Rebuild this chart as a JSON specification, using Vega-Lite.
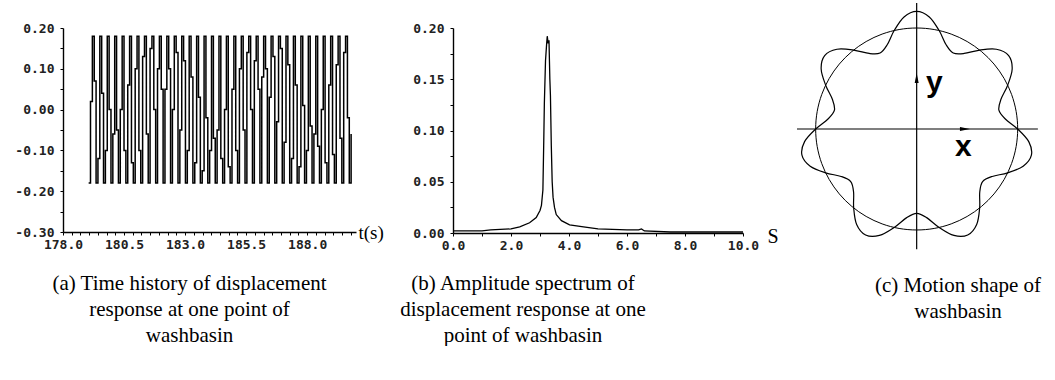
{
  "$schema": "https://vega.github.io/schema/vega-lite/v6.json",
  "padding": {"left": 14, "top": 2, "right": 5, "bottom": 0},
  "bounds": "flush",
  "spacing": 97,
  "background": "white",
  "config": {
    "view": {"stroke": null},
    "axis": {
      "domainColor": "black", "domainWidth": 1.4, "tickColor": "black", "tickWidth": 1, "tickSize": 3,
      "grid": false, "labelFont": "DejaVu Sans Mono", "labelFontSize": 13, "labelFontWeight": "bold",
      "labelColor": "#222", "labelOverlap": false, "labelFlush": false,
      "titleFontWeight": "normal", "titleColor": "black"
    },
    "title": {"font": "Liberation Serif", "fontSize": 21, "fontWeight": "normal", "color": "black", "lineHeight": 26}
  },
  "datasets": {
    "signal": [
      {"t":179.050,"v":-0.18},{"t":179.126,"v":0.02},{"t":179.203,"v":0.18},{"t":179.279,"v":0.07},
      {"t":179.355,"v":-0.18},{"t":179.431,"v":-0.12},{"t":179.508,"v":0.18},{"t":179.584,"v":0.04},
      {"t":179.660,"v":-0.18},{"t":179.736,"v":-0.10},{"t":179.813,"v":0.18},{"t":179.889,"v":0.00},
      {"t":179.965,"v":-0.18},{"t":180.041,"v":-0.06},{"t":180.118,"v":0.18},{"t":180.194,"v":-0.05},
      {"t":180.270,"v":-0.18},{"t":180.346,"v":0.00},{"t":180.423,"v":0.18},{"t":180.499,"v":-0.10},
      {"t":180.575,"v":-0.18},{"t":180.651,"v":0.06},{"t":180.728,"v":0.18},{"t":180.804,"v":-0.13},
      {"t":180.880,"v":-0.18},{"t":180.956,"v":0.10},{"t":181.033,"v":0.18},{"t":181.109,"v":-0.10},
      {"t":181.185,"v":-0.18},{"t":181.261,"v":0.13},{"t":181.338,"v":0.18},{"t":181.414,"v":-0.06},
      {"t":181.490,"v":-0.18},{"t":181.566,"v":0.15},{"t":181.643,"v":0.18},{"t":181.719,"v":0.00},
      {"t":181.795,"v":-0.18},{"t":181.871,"v":0.10},{"t":181.948,"v":0.18},{"t":182.024,"v":0.05},
      {"t":182.100,"v":-0.18},{"t":182.176,"v":0.05},{"t":182.253,"v":0.18},{"t":182.329,"v":0.10},
      {"t":182.405,"v":-0.18},{"t":182.481,"v":0.00},{"t":182.558,"v":0.18},{"t":182.634,"v":0.14},
      {"t":182.710,"v":-0.18},{"t":182.786,"v":-0.05},{"t":182.863,"v":0.18},{"t":182.939,"v":0.12},
      {"t":183.015,"v":-0.18},{"t":183.091,"v":-0.10},{"t":183.168,"v":0.18},{"t":183.244,"v":0.08},
      {"t":183.320,"v":-0.18},{"t":183.396,"v":-0.13},{"t":183.473,"v":0.18},{"t":183.549,"v":0.03},
      {"t":183.625,"v":-0.18},{"t":183.701,"v":-0.15},{"t":183.778,"v":0.18},{"t":183.854,"v":-0.02},
      {"t":183.930,"v":-0.18},{"t":184.006,"v":-0.10},{"t":184.083,"v":0.18},{"t":184.159,"v":-0.07},
      {"t":184.235,"v":-0.18},{"t":184.311,"v":-0.05},{"t":184.388,"v":0.18},{"t":184.464,"v":-0.12},
      {"t":184.540,"v":-0.18},{"t":184.616,"v":0.00},{"t":184.693,"v":0.18},{"t":184.769,"v":-0.14},
      {"t":184.845,"v":-0.18},{"t":184.921,"v":0.05},{"t":184.998,"v":0.18},{"t":185.074,"v":-0.10},
      {"t":185.150,"v":-0.18},{"t":185.226,"v":0.10},{"t":185.303,"v":0.18},{"t":185.379,"v":-0.05},
      {"t":185.455,"v":-0.18},{"t":185.531,"v":0.14},{"t":185.608,"v":0.18},{"t":185.684,"v":0.00},
      {"t":185.760,"v":-0.18},{"t":185.836,"v":0.12},{"t":185.913,"v":0.18},{"t":185.989,"v":0.05},
      {"t":186.065,"v":-0.18},{"t":186.141,"v":0.08},{"t":186.218,"v":0.18},{"t":186.294,"v":0.10},
      {"t":186.370,"v":-0.18},{"t":186.446,"v":0.03},{"t":186.523,"v":0.18},{"t":186.599,"v":0.13},
      {"t":186.675,"v":-0.18},{"t":186.751,"v":-0.03},{"t":186.828,"v":0.18},{"t":186.904,"v":0.15},
      {"t":186.980,"v":-0.18},{"t":187.056,"v":-0.08},{"t":187.133,"v":0.18},{"t":187.209,"v":0.11},
      {"t":187.285,"v":-0.18},{"t":187.361,"v":-0.12},{"t":187.438,"v":0.18},{"t":187.514,"v":0.06},
      {"t":187.590,"v":-0.18},{"t":187.666,"v":-0.14},{"t":187.743,"v":0.18},{"t":187.819,"v":0.01},
      {"t":187.895,"v":-0.18},{"t":187.971,"v":-0.10},{"t":188.048,"v":0.18},{"t":188.124,"v":-0.04},
      {"t":188.200,"v":-0.18},{"t":188.276,"v":-0.06},{"t":188.353,"v":0.18},{"t":188.429,"v":-0.09},
      {"t":188.505,"v":-0.18},{"t":188.581,"v":0.00},{"t":188.658,"v":0.18},{"t":188.734,"v":-0.13},
      {"t":188.810,"v":-0.18},{"t":188.886,"v":0.06},{"t":188.963,"v":0.18},{"t":189.039,"v":-0.11},
      {"t":189.115,"v":-0.18},{"t":189.191,"v":0.11},{"t":189.268,"v":0.18},{"t":189.344,"v":-0.07},
      {"t":189.420,"v":-0.18},{"t":189.496,"v":0.14},{"t":189.573,"v":0.18},{"t":189.649,"v":-0.02},
      {"t":189.725,"v":-0.18},{"t":189.800,"v":-0.06}
    ],
    "spectrum": [
      {"f":0.0,"a":0.002},{"f":1.0,"a":0.002},{"f":1.3,"a":0.003},{"f":2.0,"a":0.004},{"f":2.3,"a":0.006},
      {"f":2.64,"a":0.010},{"f":2.87,"a":0.015},{"f":3.0,"a":0.022},{"f":3.05,"a":0.027},{"f":3.10,"a":0.042},
      {"f":3.13,"a":0.09},{"f":3.15,"a":0.126},{"f":3.19,"a":0.168},{"f":3.23,"a":0.185},{"f":3.25,"a":0.192},
      {"f":3.28,"a":0.185},{"f":3.31,"a":0.188},{"f":3.34,"a":0.15},{"f":3.36,"a":0.134},{"f":3.39,"a":0.085},
      {"f":3.42,"a":0.05},{"f":3.45,"a":0.035},{"f":3.5,"a":0.025},{"f":3.56,"a":0.018},{"f":3.74,"a":0.012},
      {"f":4.02,"a":0.008},{"f":4.5,"a":0.006},{"f":5.0,"a":0.004},{"f":6.0,"a":0.003},{"f":6.4,"a":0.003},
      {"f":6.5,"a":0.004},{"f":6.6,"a":0.002},{"f":7.5,"a":0.001},{"f":10.0,"a":0.001}
    ],
    "circle": [
      {"i":0,"x":1,"y":0},{"i":1,"x":0.9848,"y":0.1736},{"i":2,"x":0.9397,"y":0.342},{"i":3,"x":0.866,"y":0.5},
      {"i":4,"x":0.766,"y":0.6428},{"i":5,"x":0.6428,"y":0.766},{"i":6,"x":0.5,"y":0.866},{"i":7,"x":0.342,"y":0.9397},
      {"i":8,"x":0.1736,"y":0.9848},{"i":9,"x":0,"y":1},{"i":10,"x":-0.1736,"y":0.9848},{"i":11,"x":-0.342,"y":0.9397},
      {"i":12,"x":-0.5,"y":0.866},{"i":13,"x":-0.6428,"y":0.766},{"i":14,"x":-0.766,"y":0.6428},{"i":15,"x":-0.866,"y":0.5},
      {"i":16,"x":-0.9397,"y":0.342},{"i":17,"x":-0.9848,"y":0.1736},{"i":18,"x":-1,"y":0},{"i":19,"x":-0.9848,"y":-0.1736},
      {"i":20,"x":-0.9397,"y":-0.342},{"i":21,"x":-0.866,"y":-0.5},{"i":22,"x":-0.766,"y":-0.6428},{"i":23,"x":-0.6428,"y":-0.766},
      {"i":24,"x":-0.5,"y":-0.866},{"i":25,"x":-0.342,"y":-0.9397},{"i":26,"x":-0.1736,"y":-0.9848},{"i":27,"x":0,"y":-1},
      {"i":28,"x":0.1736,"y":-0.9848},{"i":29,"x":0.342,"y":-0.9397},{"i":30,"x":0.5,"y":-0.866},{"i":31,"x":0.6428,"y":-0.766},
      {"i":32,"x":0.766,"y":-0.6428},{"i":33,"x":0.866,"y":-0.5},{"i":34,"x":0.9397,"y":-0.342},{"i":35,"x":0.9848,"y":-0.1736}
    ],
    "wave": [
      {"i":0,"x":0,"y":1.165},{"i":1,"x":-0.125,"y":1.1097},{"i":2,"x":-0.2225,"y":0.9749},{"i":3,"x":-0.2917,"y":0.8337},
      {"i":4,"x":-0.3623,"y":0.7523},{"i":5,"x":-0.4699,"y":0.7479},{"i":6,"x":-0.6235,"y":0.7818},{"i":7,"x":-0.7896,"y":0.7896},
      {"i":8,"x":-0.9108,"y":0.7264},{"i":9,"x":-0.9455,"y":0.5941},{"i":10,"x":-0.901,"y":0.4339},{"i":11,"x":-0.8337,"y":0.2917},
      {"i":12,"x":-0.8141,"y":0.1858},{"i":13,"x":-0.8777,"y":0.0989},{"i":14,"x":-1.0,"y":0},{"i":15,"x":-1.1097,"y":-0.125},
      {"i":16,"x":-1.1358,"y":-0.2592},{"i":17,"x":-1.054,"y":-0.3688},{"i":18,"x":-0.901,"y":-0.4339},{"i":19,"x":-0.7479,"y":-0.4699},
      {"i":20,"x":-0.6528,"y":-0.5206},{"i":21,"x":-0.6246,"y":-0.6246},{"i":22,"x":-0.6235,"y":-0.7818},{"i":23,"x":-0.5941,"y":-0.9455},
      {"i":24,"x":-0.5055,"y":-1.0496},{"i":25,"x":-0.3688,"y":-1.054},{"i":26,"x":-0.2225,"y":-0.9749},{"i":27,"x":-0.0989,"y":-0.8777},
      {"i":28,"x":0,"y":-0.835},{"i":29,"x":0.0989,"y":-0.8777},{"i":30,"x":0.2225,"y":-0.9749},{"i":31,"x":0.3688,"y":-1.054},
      {"i":32,"x":0.5055,"y":-1.0496},{"i":33,"x":0.5941,"y":-0.9455},{"i":34,"x":0.6235,"y":-0.7818},{"i":35,"x":0.6246,"y":-0.6246},
      {"i":36,"x":0.6528,"y":-0.5206},{"i":37,"x":0.7479,"y":-0.4699},{"i":38,"x":0.901,"y":-0.4339},{"i":39,"x":1.054,"y":-0.3688},
      {"i":40,"x":1.1358,"y":-0.2592},{"i":41,"x":1.1097,"y":-0.125},{"i":42,"x":1.0,"y":0},{"i":43,"x":0.8777,"y":0.0989},
      {"i":44,"x":0.8141,"y":0.1858},{"i":45,"x":0.8337,"y":0.2917},{"i":46,"x":0.901,"y":0.4339},{"i":47,"x":0.9455,"y":0.5941},
      {"i":48,"x":0.9108,"y":0.7264},{"i":49,"x":0.7896,"y":0.7896},{"i":50,"x":0.6235,"y":0.7818},{"i":51,"x":0.4699,"y":0.7479},
      {"i":52,"x":0.3623,"y":0.7523},{"i":53,"x":0.2917,"y":0.8337},{"i":54,"x":0.2225,"y":0.9749},{"i":55,"x":0.125,"y":1.1097}
    ],
    "axes": [
      {"x":-1.185,"x2":1.2,"y":0,"y2":0},
      {"x":0,"x2":0,"y":-1.19,"y2":1.247}
    ],
    "arrows": [
      {"x":0.478,"y":0,"dir":"right"},
      {"x":0,"y":0.505,"dir":"up"}
    ],
    "labels": [
      {"x":0.176,"y":0.455,"label":"y"},
      {"x":0.463,"y":-0.178,"label":"x"}
    ]
  },
  "hconcat": [
    {
      "width": 293, "height": 204,
      "title": {"text": ["(a) Time history of displacement", "response at one point of", "washbasin"], "orient": "bottom", "anchor": "middle", "frame": "group", "offset": 22, "dx": -20},
      "data": {"name": "signal"},
      "mark": {"type": "line", "interpolate": "step-after", "color": "black", "strokeWidth": 1.5},
      "encoding": {
        "x": {"field": "t", "type": "quantitative",
          "scale": {"domain": [178, 190], "nice": false, "zero": false},
          "axis": {
            "values": [178,178.357,178.714,179.071,179.429,179.786,180.143,180.5,180.857,181.214,181.571,181.929,182.286,182.643,183,183.357,183.714,184.071,184.429,184.786,185.143,185.5,185.857,186.214,186.571,186.929,187.286,187.643,188,188.357,188.714,189.071,189.429,189.786],
            "labelExpr": "indexof([178,180.5,183,185.5,188], datum.value) >= 0 ? format(datum.value, '.1f') : ''",
            "labelPadding": 3,
            "title": "t(s)", "titleFont": "Liberation Serif", "titleFontSize": 19,
            "titleX": 295, "titleY": 0, "titleAlign": "left", "titleBaseline": "middle", "titleAngle": 0
          }
        },
        "y": {"field": "v", "type": "quantitative",
          "scale": {"domain": [-0.3, 0.2], "nice": false, "zero": false},
          "axis": {
            "values": [-0.3,-0.25,-0.2,-0.15,-0.1,-0.05,0,0.05,0.1,0.15,0.2],
            "labelExpr": "indexof([-0.3,-0.2,-0.1,0,0.1,0.2], datum.value) >= 0 ? (datum.value < 0 ? '-' : '') + format(abs(datum.value), '.2f') : ''",
            "labelPadding": 6, "title": null
          }
        }
      }
    },
    {
      "width": 290, "height": 205,
      "title": {"text": ["(b) Amplitude spectrum of", "displacement response at one", "point of washbasin"], "orient": "bottom", "anchor": "middle", "frame": "group", "offset": 21, "dx": -75},
      "data": {"name": "spectrum"},
      "mark": {"type": "line", "color": "black", "strokeWidth": 1.3},
      "encoding": {
        "x": {"field": "f", "type": "quantitative",
          "scale": {"domain": [0, 10], "nice": false},
          "axis": {
            "values": [0,1,2,3,4,5,6,7,8,9,10],
            "labelExpr": "datum.value % 2 == 0 ? format(datum.value, '.1f') : ''",
            "labelPadding": 3,
            "title": "S", "titleFont": "Liberation Serif", "titleFontSize": 20,
            "titleX": 314, "titleY": 3, "titleAlign": "left", "titleBaseline": "middle", "titleAngle": 0
          }
        },
        "y": {"field": "a", "type": "quantitative",
          "scale": {"domain": [0, 0.2], "nice": false},
          "axis": {
            "values": [0,0.025,0.05,0.075,0.1,0.125,0.15,0.175,0.2],
            "labelExpr": "indexof([0,0.05,0.1,0.15,0.2], datum.value) >= 0 ? format(datum.value, '.2f') : ''",
            "labelPadding": 6, "title": null
          }
        }
      }
    },
    {
      "width": 200, "height": 204,
      "title": {"text": ["(c) Motion shape of", "washbasin"], "orient": "bottom", "anchor": "middle", "frame": "group", "offset": 25, "dx": 18},
      "layer": [
        {
          "data": {"name": "circle"},
          "mark": {"type": "line", "interpolate": "cardinal-closed", "color": "black", "strokeWidth": 1},
          "encoding": {
            "x": {"field": "x", "type": "quantitative", "scale": {"domain": [-0.759, 1.221], "nice": false, "zero": false}, "axis": null},
            "y": {"field": "y", "type": "quantitative", "scale": {"domain": [-1.02, 1.0], "nice": false, "zero": false}, "axis": null},
            "order": {"field": "i", "type": "quantitative"}
          }
        },
        {
          "data": {"name": "wave"},
          "mark": {"type": "line", "interpolate": "cardinal-closed", "color": "black", "strokeWidth": 1.2},
          "encoding": {
            "x": {"field": "x", "type": "quantitative"},
            "y": {"field": "y", "type": "quantitative"},
            "order": {"field": "i", "type": "quantitative"}
          }
        },
        {
          "data": {"name": "axes"},
          "mark": {"type": "rule", "color": "black", "strokeWidth": 1.2},
          "encoding": {
            "x": {"field": "x", "type": "quantitative"},
            "x2": {"field": "x2"},
            "y": {"field": "y", "type": "quantitative"},
            "y2": {"field": "y2"}
          }
        },
        {
          "data": {"name": "arrows"},
          "mark": {"type": "point", "filled": true, "color": "black", "size": 100, "opacity": 1},
          "encoding": {
            "x": {"field": "x", "type": "quantitative"},
            "y": {"field": "y", "type": "quantitative"},
            "shape": {"field": "dir", "type": "nominal", "legend": null,
              "scale": {"domain": ["right", "up"], "range": ["M-1,-0.4L1,0L-1,0.4Z", "M-0.4,1L0,-1L0.4,1Z"]}}
          }
        },
        {
          "data": {"name": "labels"},
          "mark": {"type": "text", "font": "Liberation Sans", "fontWeight": "bold", "fontSize": 30, "color": "black", "align": "center", "baseline": "middle"},
          "encoding": {
            "x": {"field": "x", "type": "quantitative"},
            "y": {"field": "y", "type": "quantitative"},
            "text": {"field": "label", "type": "nominal"}
          }
        }
      ]
    }
  ]
}
